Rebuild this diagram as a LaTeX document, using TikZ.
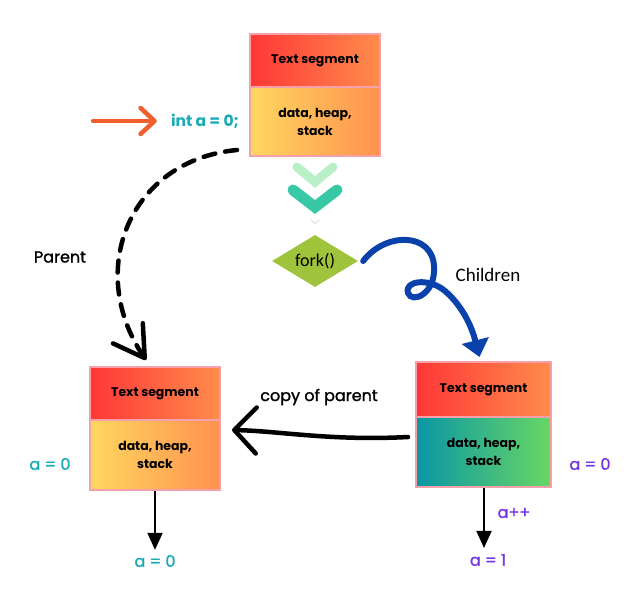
\documentclass[tikz,border=0pt]{standalone}
\usepackage{fontspec}
\setmainfont{Poppins}
\newfontfamily\popmed{Poppins}[FakeBold=1.5]
\newfontfamily\calib{Carlito}
\usetikzlibrary{arrows.meta,shapes.geometric}
\definecolor{segred}{RGB}{255,55,55}
\definecolor{segorange}{RGB}{255,140,75}
\definecolor{datayellow}{RGB}{255,215,95}
\definecolor{dataorange}{RGB}{255,145,80}
\definecolor{datateal}{RGB}{10,150,165}
\definecolor{datagreen}{RGB}{105,215,100}
\definecolor{boxpink}{RGB}{245,160,170}
\definecolor{tealtxt}{RGB}{25,170,185}
\definecolor{purptxt}{RGB}{115,55,225}
\definecolor{arroworange}{RGB}{240,95,45}
\definecolor{forkgreen}{RGB}{160,195,60}
\definecolor{forkblue}{RGB}{10,65,170}
\definecolor{chevlight}{RGB}{185,240,200}
\definecolor{chevdark}{RGB}{55,200,165}
\begin{document}
\begin{tikzpicture}[x=1pt,y=-1pt,
  segbox/.style={draw=boxpink, line width=2pt, inner sep=0pt, align=center,
    font=\fontsize{12.5}{18}\selectfont\bfseries, left color=segred, right color=segorange},
  databox/.style={segbox, left color=datayellow, right color=dataorange},
  lbl/.style={font=\popmed\fontsize{16}{18}\selectfont, inner sep=1pt},
  tealt/.style={lbl, text=tealtxt},
  purpt/.style={lbl, text=purptxt},
  downarrow/.style={line width=2pt, -{Triangle[length=17pt,width=15pt]}},
  handarrow/.style={line width=4.5pt, line cap=round}
]
\useasboundingbox (0,0) rectangle (631,598);

% top box
\node[segbox, minimum width=130pt, minimum height=53pt] (topT) at (315,60.5) {Text segment};
\node[databox, minimum width=130pt, minimum height=69pt] (topD) at (315,121.5) {data, heap,\\stack};

% left box
\node[segbox, minimum width=130pt, minimum height=53pt] (leftT) at (155,393.5) {Text segment};
\node[databox, minimum width=130pt, minimum height=70pt] (leftD) at (155,455) {data, heap,\\stack};

% right box
\node[segbox, minimum width=135pt, minimum height=55pt] (rightT) at (483.5,389.5) {Text segment};
\node[databox, left color=datateal, right color=datagreen, minimum width=135pt, minimum height=70pt] (rightD) at (483.5,452) {data, heap,\\stack};

% int a = 0
\node[tealt, font=\fontsize{15.5}{18}\selectfont\bfseries] (inta) at (205,121) {int a = 0;};
\coordinate (orstart) at (93,121);
\draw[handarrow, arroworange, -{Straight Barb[length=14pt,width=26pt,round]}] (orstart) -- ([xshift=-13pt]inta.west);

% chevrons
\draw[chevlight, line width=9pt, line cap=round] (297,167) -- (315,182) -- (333,167);
\draw[chevdark, line width=11pt, line cap=round] (293,190) -- (315,207) -- (337,190);
\draw[black!15, line width=0.8pt] (311,220) -- (315,223.5) -- (319,220);

% fork
\node[diamond, fill=forkgreen, minimum width=86pt, minimum height=52pt, inner sep=0pt, aspect=1.65,
  font=\calib\fontsize{18}{20}\selectfont] (fork) at (315,261) {fork()};

% children curly arrow
\draw[forkblue, line width=6pt, line cap=round, -{Triangle[length=17pt,width=27pt]}]
  ([xshift=5pt]fork.east) .. controls (385,232) and (432,232) .. (434,266)
  .. controls (436,294) and (412,304) .. (408,293)
  .. controls (404,280) and (430,278) .. (445,291)
  .. controls (458,302) and (470,320) .. ([xshift=-4pt,yshift=4pt]rightT.north);
\node[font=\calib\fontsize{19}{22}\selectfont] (children) at (488,275) {Children};

% parent dashed arrow
\draw[handarrow, dash pattern=on 12pt off 10pt, -{Straight Barb[length=30pt,width=36pt,round]}]
  ([xshift=-12pt,yshift=7pt]topD.south west) .. controls (130,160) and (85,270) .. ([xshift=-9pt,yshift=6pt]leftT.north);
\node[lbl] (parent) at (60,257) {Parent};

% copy of parent
\draw[handarrow, -{Straight Barb[length=22pt,width=46pt,round]}]
  ([xshift=-7pt,yshift=15pt]rightD.west) .. controls (330,441) and (280,431) .. ([xshift=11pt,yshift=25pt]leftD.east);
\node[lbl] (copy) at (319,397) {copy of parent};

% a labels
\node[tealt] (aleft) at (50,464) {a = 0};
\node[purpt] (aright) at (590,464) {a = 0};
\node[tealt] (abl) at (155,561) {a = 0};
\node[purpt] (abr) at (488,560) {a = 1};
\node[purpt] (aplus) at (514,513) {a++};

\draw[downarrow] (leftD.south) -- ([yshift=4pt]abl.north);
\draw[downarrow] ([xshift=0.5pt]rightD.south) -- ([xshift=-4pt,yshift=5pt]abr.north);
\end{tikzpicture}
\end{document}
